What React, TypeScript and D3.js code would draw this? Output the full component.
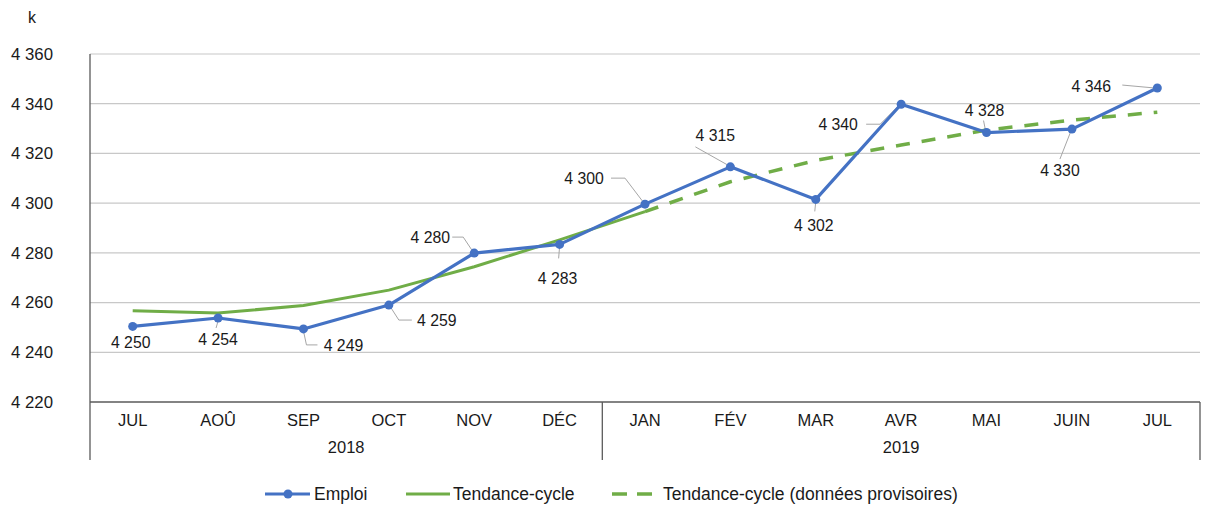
import React, { useEffect, useRef } from 'react';
import * as d3 from 'd3';

const months = ['JUL', 'AOÛ', 'SEP', 'OCT', 'NOV', 'DÉC', 'JAN', 'FÉV', 'MAR', 'AVR', 'MAI', 'JUIN', 'JUL'];
const years = [
  { label: '2018', from: 0, to: 5 },
  { label: '2019', from: 6, to: 12 },
];
const emploi = [4250.4, 4253.8, 4249.4, 4259.0, 4279.9, 4283.4, 4299.6, 4314.6, 4301.5, 4339.8, 4328.4, 4329.8, 4346.3];
// tendance-cycle, JUL 2018 .. JAN 2019
const tendance = [4256.7, 4255.8, 4258.8, 4265.0, 4274.4, 4285.2, 4296.6];
// tendance-cycle provisoire, JAN 2019 .. JUL 2019
const tendanceProv = [4296.6, 4308.6, 4317.2, 4323.4, 4329.4, 4333.4, 4336.6];
const yTicks = [4220, 4240, 4260, 4280, 4300, 4320, 4340, 4360];

// label placement for Emploi points: text centre offset + leader polyline offsets
const labelLayout: { dx: number; dy: number; leader: number[][] }[] = [
  { dx: -2, dy: 16, leader: [] },
  { dx: 0, dy: 21, leader: [[0, 3], [-2, 10]] },
  { dx: 40, dy: 17, leader: [[0, 2], [3, 16], [14, 16]] },
  { dx: 48, dy: 15, leader: [[1, 1], [10, 15], [23, 15]] },
  { dx: -44, dy: -16, leader: [[-1, -1], [-11, -16], [-22, -16]] },
  { dx: -2, dy: 34, leader: [[0, 2], [-1, 14]] },
  { dx: -61, dy: -26, leader: [[-1, -1], [-20, -26], [-34, -26]] },
  { dx: -15, dy: -31, leader: [[-3, -2], [-35, -20]] },
  { dx: -2, dy: 26, leader: [[0, 2], [-1, 12]] },
  { dx: -63, dy: 20, leader: [[-2, 1], [-21, 20], [-35, 20]] },
  { dx: -2, dy: -22, leader: [[-1, -2], [-3, -12]] },
  { dx: -12, dy: 41, leader: [[-1, 2], [-12, 30]] },
  { dx: -66, dy: -2, leader: [[-2, 0], [-35, -3]] },
];

const BLUE = '#4472C4';
const GREEN = '#70AD47';
const FONT = '"Liberation Sans", Arial, sans-serif';

export default function App() {
  const svgRef = useRef<SVGSVGElement>(null);

  useEffect(() => {
    document.body.style.margin = '0';
    const width = 1208;
    const height = 506;
    const margin = { top: 54, right: 8, bottom: 104, left: 90 };
    const innerW = width - margin.left - margin.right;
    const innerH = height - margin.top - margin.bottom;

    const root = d3.select(svgRef.current).attr('width', width).attr('height', height);
    root.selectAll('*').remove();
    root.append('rect').attr('width', width).attr('height', height).attr('fill', '#fff');

    const svg = root.append('g').attr('transform', `translate(${margin.left},${margin.top})`);

    const x = d3.scaleBand<number>().domain(d3.range(months.length)).range([0, innerW]);
    const cx = (i: number) => (x(i) as number) + x.bandwidth() / 2;
    const y = d3.scaleLinear().domain([4220, 4360]).range([innerH, 0]);

    // gridlines
    svg
      .selectAll('line.grid')
      .data(yTicks.slice(1))
      .join('line')
      .attr('x1', 0)
      .attr('x2', innerW)
      .attr('y1', (d) => y(d))
      .attr('y2', (d) => y(d))
      .attr('stroke', '#c8c8c8')
      .attr('stroke-width', 1.2);

    // y tick labels
    svg
      .selectAll('text.ytick')
      .data(yTicks)
      .join('text')
      .attr('x', -37)
      .attr('y', (d) => y(d))
      .attr('dy', '0.35em')
      .attr('text-anchor', 'end')
      .attr('font-family', FONT)
      .attr('font-size', 16.8)
      .attr('fill', '#1a1a1a')
      .text((d) => d3.format(',')(d).replace(',', ' '));

    root
      .append('text')
      .attr('x', 32)
      .attr('y', 23)
      .attr('text-anchor', 'middle')
      .attr('font-family', FONT)
      .attr('font-size', 16)
      .attr('fill', '#1a1a1a')
      .text('k');

    // axes frame
    const axisColor = '#5a5a5a';
    svg.append('line').attr('x1', 0).attr('x2', innerW).attr('y1', innerH).attr('y2', innerH).attr('stroke', axisColor).attr('stroke-width', 1.3);
    svg.append('line').attr('x1', 0).attr('x2', 0).attr('y1', 0).attr('y2', innerH + 58).attr('stroke', axisColor).attr('stroke-width', 1.3);
    years.forEach((yr) => {
      const right = (x(yr.to) as number) + x.bandwidth();
      svg.append('line').attr('x1', right).attr('x2', right).attr('y1', innerH).attr('y2', innerH + 58).attr('stroke', axisColor).attr('stroke-width', 1.3);
      const mid = ((x(yr.from) as number) + right) / 2;
      svg
        .append('text')
        .attr('x', mid)
        .attr('y', innerH + 51)
        .attr('text-anchor', 'middle')
        .attr('font-family', FONT)
        .attr('font-size', 16.5)
        .attr('fill', '#1a1a1a')
        .text(yr.label);
    });

    svg
      .selectAll('text.month')
      .data(months)
      .join('text')
      .attr('x', (_, i) => cx(i))
      .attr('y', innerH + 24)
      .attr('text-anchor', 'middle')
      .attr('font-family', FONT)
      .attr('font-size', 16.5)
      .attr('fill', '#1a1a1a')
      .text((d) => d);

    const line = d3
      .line<number>()
      .x((_, i) => cx(i))
      .y((d) => y(d));
    const lineProv = d3
      .line<number>()
      .x((_, i) => cx(i + 6))
      .y((d) => y(d));

    svg.append('path').datum(tendanceProv).attr('d', lineProv).attr('fill', 'none').attr('stroke', GREEN).attr('stroke-width', 3.5).attr('stroke-dasharray', '14 12');
    svg.append('path').datum(tendance).attr('d', line).attr('fill', 'none').attr('stroke', GREEN).attr('stroke-width', 3);

    // leader lines
    emploi.forEach((v, i) => {
      const l = labelLayout[i];
      if (l.leader.length) {
        svg
          .append('path')
          .attr('d', d3.line()(l.leader.map(([a, b]) => [cx(i) + a, y(v) + b]) as [number, number][]))
          .attr('fill', 'none')
          .attr('stroke', '#a6a6a6')
          .attr('stroke-width', 1);
      }
    });

    svg.append('path').datum(emploi).attr('d', line).attr('fill', 'none').attr('stroke', BLUE).attr('stroke-width', 3.2).attr('stroke-linejoin', 'round');
    svg
      .selectAll('circle.pt')
      .data(emploi)
      .join('circle')
      .attr('cx', (_, i) => cx(i))
      .attr('cy', (d) => y(d))
      .attr('r', 4.5)
      .attr('fill', BLUE);

    svg
      .selectAll('text.lbl')
      .data(emploi)
      .join('text')
      .attr('x', (_, i) => cx(i) + labelLayout[i].dx)
      .attr('y', (d, i) => y(d) + labelLayout[i].dy)
      .attr('dy', '0.35em')
      .attr('text-anchor', 'middle')
      .attr('font-family', FONT)
      .attr('font-size', 15.8)
      .attr('fill', '#1a1a1a')
      .text((d) => d3.format(',')(Math.round(d)).replace(',', ' '));

    // legend
    const lg = root.append('g').attr('transform', 'translate(0,494)');
    lg.append('line').attr('x1', 265).attr('x2', 310).attr('stroke', BLUE).attr('stroke-width', 3.2);
    lg.append('circle').attr('cx', 288).attr('r', 4.5).attr('fill', BLUE);
    lg.append('line').attr('x1', 406).attr('x2', 450).attr('stroke', GREEN).attr('stroke-width', 3);
    lg.append('line').attr('x1', 612).attr('x2', 652).attr('stroke', GREEN).attr('stroke-width', 3.5).attr('stroke-dasharray', '15 10');
    [
      { x: 314, t: 'Emploi' },
      { x: 453, t: 'Tendance-cycle' },
      { x: 663, t: 'Tendance-cycle (données provisoires)' },
    ].forEach((d) => {
      lg.append('text')
        .attr('x', d.x)
        .attr('dy', '0.35em')
        .attr('font-family', FONT)
        .attr('font-size', 17.5)
        .attr('fill', '#1a1a1a')
        .text(d.t);
    });
  }, []);

  return <svg ref={svgRef} style={{ display: 'block' }}></svg>;
}
